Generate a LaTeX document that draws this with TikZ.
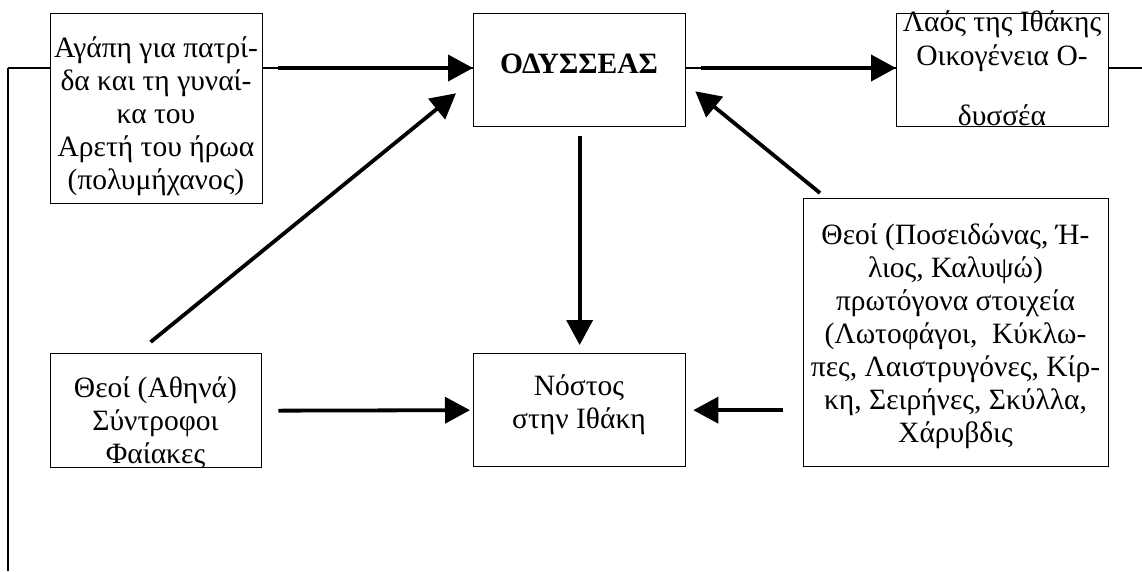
\documentclass[tikz,border=0pt]{standalone}
\usepackage{fontspec}
\setmainfont{Liberation Serif}
\usetikzlibrary{arrows.meta,calc}
\begin{document}
\begin{tikzpicture}[x=1pt,y=-1pt,
  box/.style={draw,line width=1.3pt,inner sep=0pt,anchor=north west},
  txt/.style={align=center,inner sep=0pt,anchor=base,font=\fontsize{29.5}{33}\selectfont},
  arr/.style={line width=3.8pt,-{Triangle[length=25pt,width=26pt]}},
  fb/.style={line width=1.3pt}]
\useasboundingbox (0,0) rectangle (1142,571);
\node[txt] (ta) at (156,189) {Αγάπη για πατρί-\\δα και τη γυναί-\\κα του\\Αρετή του ήρωα\\(πολυμήχανος)};
\node[txt] (to) at (579,73) {\textbf{ΟΔΥΣΣΕΑΣ}};
\node[txt] (tl) at (1002,125) {Λαός της Ιθάκης\\[1pt]Οικογένεια Ο-\\[27pt]δυσσέα};
\node[txt] (tth) at (155.5,463) {Θεοί (Αθηνά)\\Σύντροφοι\\Φαίακες};
\node[txt] (tn) at (579,428) {Νόστος\\στην Ιθάκη};
\node[txt] (tp) at (955.5,442) {Θεοί (Ποσειδώνας, Ή-\\λιος, Καλυψώ)\\πρωτόγονα στοιχεία\\(Λωτοφάγοι,\ \ Κύκλω-\\πες, Λαιστρυγόνες, Κίρ-\\κη, Σειρήνες, Σκύλλα,\\Χάρυβδις};
\node[box,minimum width=212pt,minimum height=190pt] (a) at (50,13) {};
\node[box,minimum width=212pt,minimum height=113pt] (o) at (473,13) {};
\node[box,minimum width=212pt,minimum height=113pt] (l) at (896,13) {};
\node[box,minimum width=211pt,minimum height=114pt] (th) at (50,353) {};
\node[box,minimum width=212pt,minimum height=113pt] (n) at (473,353) {};
\node[box,minimum width=305pt,minimum height=268pt] (p) at (803,198) {};
\coordinate (fbL) at (8,68);
\coordinate (fbB) at (8,571);
\coordinate (fbR) at (1142,68);
\draw[line width=2pt] (fbB) -- (fbL);
\draw[fb] (fbL) -- (a.west|-fbL);
\draw[fb] (a.east|-fbL) -- (o.west|-fbL);
\draw[fb] (o.east|-fbL) -- (l.west|-fbL);
\draw[fb] (l.east|-fbL) -- (fbR);
\draw[arr] ($(a.east|-fbL)+(15,0)$) -- (o.west|-fbL);
\draw[arr] ($(o.east|-fbL)+(15,0)$) -- (l.west|-fbL);
\draw[arr] ($(o.south)+(0,9)$) -- ($(n.north)+(0,-8)$);
\draw[arr] ($(th.east)+(16,0)$) -- ($(n.west)+(-3,0)$);
\draw[arr] ($(p.west|-n.west)+(-20,0)$) -- ($(n.east)+(7,0)$);
\draw[arr] ($(th.north)+(-5.5,-11)$) -- ($(o.south west)+(-17,-34)$);
\draw[arr] ($(p.north west)+(17,-5)$) -- ($(o.south east)+(9,-36)$);
\end{tikzpicture}
\end{document}
